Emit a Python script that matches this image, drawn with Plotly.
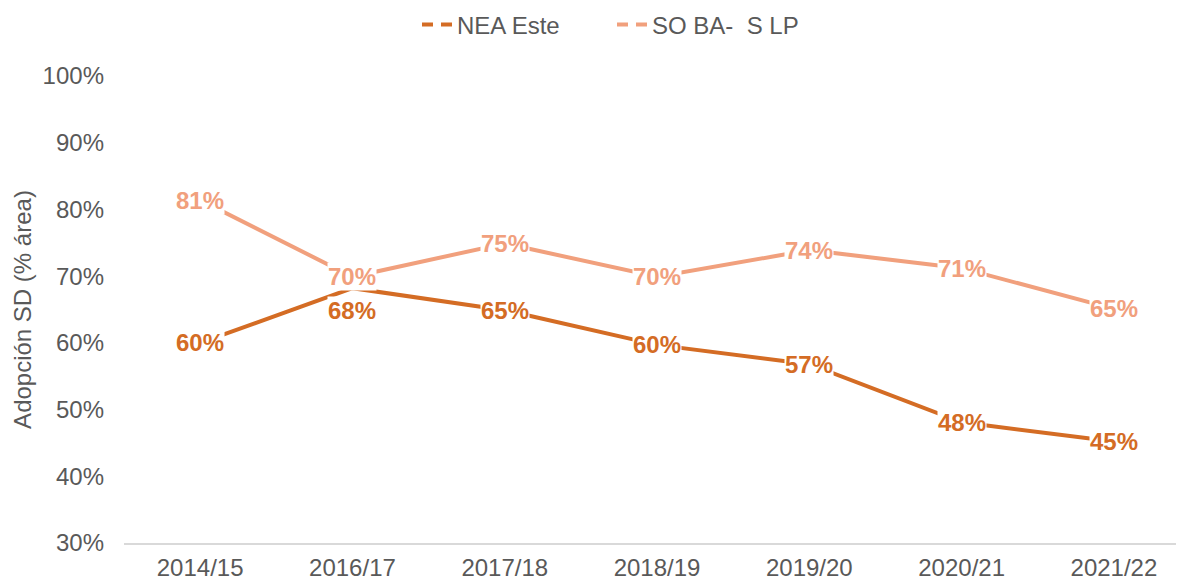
import plotly.graph_objects as go

categories = ["2014/15", "2016/17", "2017/18", "2018/19", "2019/20", "2020/21", "2021/22"]
nea_este = [0.600, 0.682, 0.649, 0.597, 0.568, 0.481, 0.452]
so_ba_slp = [0.814, 0.699, 0.749, 0.699, 0.739, 0.712, 0.651]
series_names = ["NEA Este", "SO BA-\u00a0 S LP"]
y_ticks = [0.3, 0.4, 0.5, 0.6, 0.7, 0.8, 0.9, 1.0]

c_nea = "#D46C24"
c_so = "#F1A07D"
font_family = "Arial, Liberation Sans, sans-serif"
txt_col = "#595959"
FS = 24

fig = go.Figure()

# actual lines
for vals, col in [(so_ba_slp, c_so), (nea_este, c_nea)]:
    fig.add_trace(go.Scatter(x=categories, y=vals, mode="lines",
                             line=dict(color=col, width=4), showlegend=False,
                             hoverinfo="skip"))
# legend entries (dashed symbols as in reference)
for name, col in zip(series_names, [c_nea, c_so]):
    fig.add_trace(go.Scatter(x=[None], y=[None], mode="lines", name=name,
                             line=dict(color=col, width=4, dash="11px,8px")))

# data labels with white background
for vals, col, shifts in [(so_ba_slp, c_so, [0]*7),
                          (nea_este, c_nea, [0, -22, 0, 0, 0, 0, 0])]:
    for c, v, s in zip(categories, vals, shifts):
        fig.add_annotation(x=c, y=v, text=f"{round(v*100):.0f}%", showarrow=False,
                           bgcolor="white", borderpad=0, yshift=s,
                           font=dict(family=font_family, size=FS, color=col, weight="bold"))

# page body has an 8px margin, so the figure is 8px smaller and margins 8px less
fig.update_layout(
    width=1176, height=572,
    margin=dict(l=116, r=0, t=68, b=37, autoexpand=False),
    paper_bgcolor="white", plot_bgcolor="white",
    font=dict(family=font_family, size=FS, color=txt_col),
    legend=dict(orientation="h", x=(409 - 116) / 1060, xanchor="left",
                y=(543 - 25) / 467, yanchor="middle", yref="paper",
                font=dict(size=FS, color=txt_col), entrywidth=150,
                bgcolor="rgba(0,0,0,0)"),
    showlegend=True,
)
fig.update_xaxes(type="category", range=[-0.5, 6.46], showgrid=False, automargin=False,
                 showline=True, linecolor="#D9D9D9", linewidth=1.5,
                 ticks="", tickfont=dict(size=FS, color=txt_col), ticklabelstandoff=2)
fig.update_yaxes(range=[0.3, 1.0], tickvals=y_ticks, tickformat=".0%", automargin=False,
                 showgrid=False, zeroline=False, showline=False,
                 ticks="", ticklabelstandoff=19,
                 tickfont=dict(size=FS, color=txt_col),
                 title=dict(text="Adopción SD (% área)", font=dict(size=FS, color=txt_col),
                            standoff=4))

fig.write_html("out.html")
